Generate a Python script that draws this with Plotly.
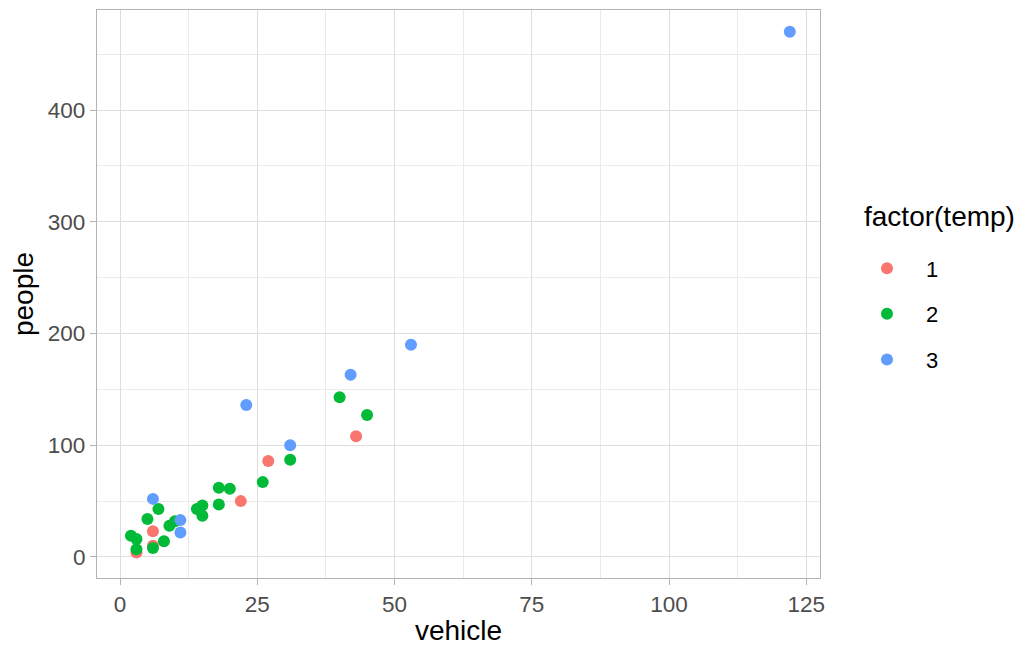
import plotly.graph_objects as go

temp1_vehicle = [3, 6, 6, 22, 27, 43]
temp1_people = [4, 10, 23, 50, 86, 108]

temp2_vehicle = [2, 3, 3, 6, 5, 7, 8, 9, 10, 14, 15, 15, 18, 18, 20, 26, 31, 40, 45]
temp2_people = [19, 16, 7, 8, 34, 43, 14, 28, 32, 43, 46, 37, 47, 62, 61, 67, 87, 143, 127]

temp3_vehicle = [6, 11, 11, 23, 31, 42, 53, 122]
temp3_people = [52, 33, 22, 136, 100, 163, 190, 470]

legend_title = "factor(temp)"

series = [
    ("1", temp1_vehicle, temp1_people, "#F8766D"),
    ("2", temp2_vehicle, temp2_people, "#00BA38"),
    ("3", temp3_vehicle, temp3_people, "#619CFF"),
]

fig = go.Figure()
for name, xs, ys, col in series:
    fig.add_trace(go.Scatter(
        x=xs, y=ys, mode="markers", name=name, legendgroup=name,
        marker=dict(color=col, size=12, line=dict(width=0)),
    ))

axis_common = dict(
    showline=True, mirror=True, linecolor="#B3B3B3", linewidth=1.2,
    gridcolor="#DEDEDE", gridwidth=1, zeroline=False,
    ticks="outside", ticklen=6, tickcolor="#B3B3B3", tickwidth=1.2,
    tickfont=dict(family="Liberation Sans, Arial", size=22.5, color="#4D4D4D"),
)

fig.update_layout(
    width=1021, height=647,
    paper_bgcolor="white", plot_bgcolor="white",
    margin=dict(l=89, r=209, t=2, b=77),
    font=dict(family="Liberation Sans, Arial"),
    xaxis=dict(
        range=[-4.19, 127.5], tickvals=[0, 25, 50, 75, 100, 125],
        minor=dict(tick0=12.5, dtick=25, showgrid=True, gridcolor="#EBEBEB", gridwidth=0.6, ticks=""),
        title=dict(text="vehicle", font=dict(size=28, color="black"), standoff=4),
        **axis_common,
    ),
    yaxis=dict(
        range=[-18.8, 489.5], tickvals=[0, 100, 200, 300, 400],
        minor=dict(tick0=50, dtick=100, showgrid=True, gridcolor="#EBEBEB", gridwidth=0.6, ticks=""),
        title=dict(text="people", font=dict(size=28, color="black"), standoff=6),
        **axis_common,
    ),
    legend=dict(
        font=dict(size=22, color="black"),
        x=1.0387, xanchor="left", y=0.582, yanchor="top",
        tracegroupgap=14, itemwidth=68,
    ),
    annotations=[dict(
        text=legend_title, xref="paper", yref="paper",
        x=1.0585, y=0.6356, xanchor="left", yanchor="middle",
        showarrow=False, font=dict(size=28, color="black"),
    )],
)

fig.write_html("out.html")
